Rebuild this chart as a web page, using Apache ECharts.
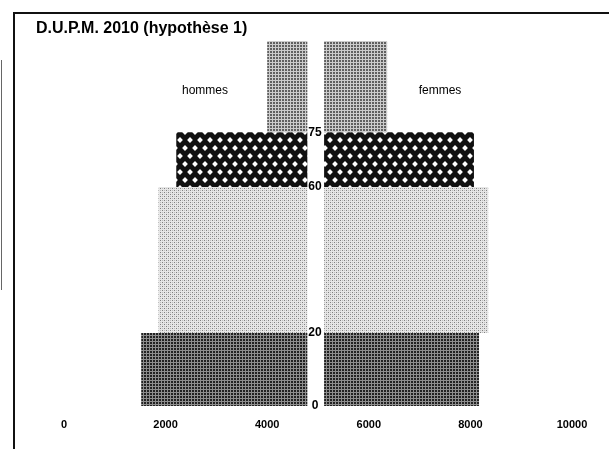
<!DOCTYPE html>
<html>
<head>
<meta charset="utf-8">
<title>D.U.P.M. 2010</title>
<script src="https://cdn.jsdelivr.net/npm/echarts@6/dist/echarts.min.js"></script>
<style>
  html, body { margin: 0; padding: 0; background: #fff; }
  #chart { width: 609px; height: 449px; }
</style>
</head>
<body>
<div id="chart"></div>
<script>
// tranches d'age (bornes) et effectifs
const ageFrom = [0, 20, 60, 75]
const ageTo = [20, 60, 75, 100]
const hommes = [3270, 2930, 2580, 790]
const femmes = [3050, 3230, 2950, 1240]
const ageTicks = [0, 20, 60, 75]
const xTicks = [0, 2000, 4000, 6000, 8000, 10000]

// les barres hommes finissent ici, les barres femmes commencent ici
const HOMMES_FIN = 4790
const FEMMES_DEBUT = 5120

// petites trames en niveaux de gris, comme sur l'original imprime
function trame(w, h, fond, draw) {
  const c = document.createElement('canvas')
  c.width = w
  c.height = h
  const ctx = c.getContext('2d')
  ctx.fillStyle = fond
  ctx.fillRect(0, 0, w, h)
  draw(ctx)
  return { image: c, repeat: 'repeat' }
}

const trameFonce = trame(3, 3, '#8e8e8e', ctx => {
  ctx.fillStyle = '#222222'
  ctx.fillRect(0, 0, 2, 2)
})
const trameClaire = trame(4, 4, '#e6e6e6', ctx => {
  ctx.fillStyle = '#808080'
  ctx.fillRect(0, 0, 1, 1)
  ctx.fillRect(2, 2, 1, 1)
  ctx.fillStyle = '#bdbdbd'
  ctx.fillRect(2, 0, 1, 1)
  ctx.fillRect(0, 2, 1, 1)
})
const trameCroix = trame(10, 16, '#111111', ctx => {
  ctx.fillStyle = '#ffffff'
  const losange = (x, y, r) => {
    ctx.beginPath()
    ctx.moveTo(x, y - r)
    ctx.lineTo(x + r, y)
    ctx.lineTo(x, y + r)
    ctx.lineTo(x - r, y)
    ctx.closePath()
    ctx.fill()
  }
  losange(5, 4, 2.9)
  losange(0, 12, 2.9)
  losange(10, 12, 2.9)
})
const trameMoyenne = trame(3, 3, '#cccccc', ctx => {
  ctx.fillStyle = '#606060'
  ctx.fillRect(0, 0, 2, 2)
})
const trames = [trameFonce, trameClaire, trameCroix, trameMoyenne]

const data = []
ageFrom.forEach((a, i) => {
  data.push([HOMMES_FIN - hommes[i], HOMMES_FIN, a, ageTo[i], i])
  data.push([FEMMES_DEBUT, FEMMES_DEBUT + femmes[i], a, ageTo[i], i])
})

const chart = echarts.init(document.getElementById('chart'), null, { renderer: 'canvas' })
const police = '"Liberation Sans", Arial, Helvetica, sans-serif'

chart.setOption({
  animation: false,
  backgroundColor: '#ffffff',
  grid: { left: 64, right: 37, top: 41, bottom: 43 },
  xAxis: {
    type: 'value',
    min: 0,
    max: 10000,
    interval: 2000,
    axisLine: { show: false },
    axisTick: { show: false },
    splitLine: { show: false },
    axisLabel: {
      customValues: xTicks,
      formatter: v => String(v),
      margin: 13,
      fontSize: 11,
      fontWeight: 'bold',
      color: '#000',
      fontFamily: police
    }
  },
  yAxis: {
    type: 'value',
    min: 0,
    max: 100,
    offset: -251,
    axisLine: { show: false },
    axisTick: { show: false },
    splitLine: { show: false },
    axisLabel: {
      customValues: ageTicks,
      margin: 0,
      align: 'center',
      fontSize: 12,
      fontWeight: 'bold',
      color: '#000',
      fontFamily: police
    }
  },
  series: [
    {
      type: 'custom',
      data: data,
      encode: { x: [0, 1], y: [2, 3] },
      renderItem: function(params, api) {
        const p0 = api.coord([api.value(0), api.value(3)])
        const p1 = api.coord([api.value(1), api.value(2)])
        return {
          type: 'rect',
          shape: { x: p0[0], y: p0[1], width: p1[0] - p0[0], height: p1[1] - p0[1] },
          style: { fill: trames[api.value(4)] }
        }
      }
    }
  ],
  graphic: [
    // cadre de la figure
    {
      type: 'polyline',
      shape: { points: [[14, 449], [14, 13], [609, 13]] },
      style: { stroke: '#111', lineWidth: 2, fill: null }
    },
    // trait de la page voisine sur le scan
    {
      type: 'line',
      shape: { x1: 1.5, y1: 60, x2: 1.5, y2: 290 },
      style: { stroke: '#666', lineWidth: 1 }
    },
    {
      type: 'text',
      left: 36,
      top: 21,
      style: { text: 'D.U.P.M. 2010 (hypothèse 1)', fill: '#000', font: 'bold 16px ' + police }
    },
    {
      type: 'text',
      x: 205,
      y: 91,
      style: { text: 'hommes', fill: '#000', font: '12px ' + police, textAlign: 'center', textVerticalAlign: 'middle' }
    },
    {
      type: 'text',
      x: 440,
      y: 91,
      style: { text: 'femmes', fill: '#000', font: '12px ' + police, textAlign: 'center', textVerticalAlign: 'middle' }
    }
  ]
})
</script>
</body>
</html>
